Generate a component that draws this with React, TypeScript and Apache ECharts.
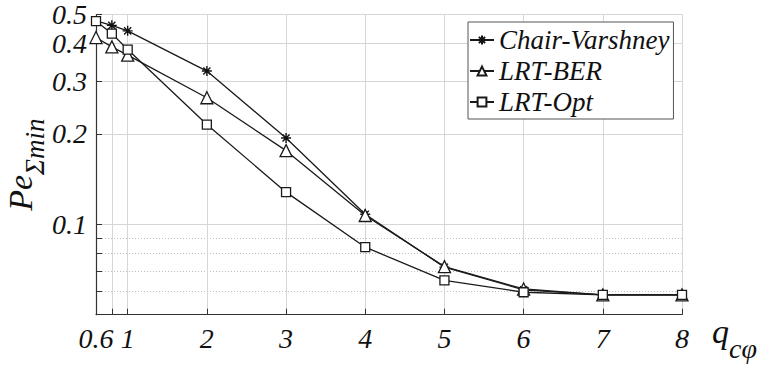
import React, { useEffect, useRef } from 'react';
import * as echarts from 'echarts';

// ---- data ----
const xValues = [0.6, 0.8, 1, 2, 3, 4, 5, 6, 7, 8];
const chairVarshney = [0.476, 0.46, 0.441, 0.324, 0.194, 0.108, 0.072, 0.0605, 0.0582, 0.0582];
const lrtBer = [0.419, 0.39, 0.366, 0.264, 0.176, 0.107, 0.0723, 0.0609, 0.0582, 0.0582];
const lrtOpt = [0.475, 0.432, 0.382, 0.215, 0.128, 0.0839, 0.0651, 0.0594, 0.0582, 0.0582];
const seriesNames = ['Chair-Varshney', 'LRT-BER', 'LRT-Opt'];

const xTickValues = [0.6, 0.8, 1, 2, 3, 4, 5, 6, 7, 8];
const xLabelValues = [0.6, 1, 2, 3, 4, 5, 6, 7, 8];
const yMajorTicks = [0.1, 0.2, 0.3, 0.4, 0.5];
const yMinorTicks = [0.06, 0.07, 0.08, 0.09];
const yMin = 0.05;
const yMax = 0.5;

const lg = (v: number) => Math.log10(v);
const FONT = "'Liberation Serif', 'Times New Roman', serif";
const STAR = 'path://M0,-10L0,10M-10,0L10,0M-7.07,-7.07L7.07,7.07M-7.07,7.07L7.07,-7.07';

export default function App() {
  const ref = useRef<HTMLDivElement>(null);

  useEffect(() => {
    if (!ref.current) return;
    const chart = echarts.init(ref.current, undefined, { renderer: 'svg' });

    const mk = (vals: number[]) => xValues.map((x, i) => [x, lg(vals[i])]);

    const lineStyle = { color: '#1a1a1a', width: 1.3 };
    const txt = { fontFamily: FONT, fontStyle: 'italic', color: '#111' };

    const option: any = {
      animation: false,
      backgroundColor: '#fff',
      textStyle: { fontFamily: FONT },
      grid: { left: 96, right: 78, top: 14.5, bottom: 50.3, containLabel: false, outerBoundsMode: 'none' },
      legend: {
        data: seriesNames,
        orient: 'vertical',
        left: 468,
        top: 22,
        backgroundColor: '#fff',
        borderColor: '#555',
        borderWidth: 1,
        padding: [3, 4, 2, 1],
        itemGap: 1,
        itemWidth: 24,
        itemHeight: 11,
        selectedMode: false,
        textStyle: { ...txt, fontSize: 27, lineHeight: 30 },
      },
      xAxis: {
        type: 'value',
        min: 0.6,
        max: 8,
        name: '{a|q}{b|cφ}',
        nameLocation: 'end',
        nameGap: 30,
        nameMoveOverlap: false,
        nameTextStyle: {
          ...txt,
          verticalAlign: 'top',
          rich: {
            a: { ...txt, fontSize: 34, lineHeight: 34, verticalAlign: 'top' },
            b: { ...txt, fontSize: 28, lineHeight: 26, verticalAlign: 'top', padding: [20, 0, 0, 0] },
          },
        },
        axisLine: { lineStyle: { color: '#333', width: 1.2 } },
        axisTick: { inside: true, length: 6, customValues: xTickValues, lineStyle: { color: '#333' } },
        axisLabel: { ...txt, customValues: xLabelValues, margin: 10, fontSize: 28 },
        splitLine: { show: true, lineStyle: { color: '#d6d6d6', width: 1 } },
      },
      yAxis: [
        {
          type: 'value',
          min: lg(yMin),
          max: lg(yMax),
          position: 'left',
          name: '{a|Pe}{b|Σmin}',
          nameLocation: 'middle',
          nameRotate: 90,
          nameGap: 59,
          nameMoveOverlap: false,
          nameTextStyle: {
            ...txt,
            rich: {
              a: { ...txt, fontSize: 34, lineHeight: 34, verticalAlign: 'top' },
              b: { ...txt, fontSize: 27, lineHeight: 27, verticalAlign: 'top', padding: [18, 0, 0, 0] },
            },
          },
          axisLine: { show: true, lineStyle: { color: '#333', width: 1.2 } },
          axisTick: { show: true, inside: true, length: 6, customValues: yMajorTicks.map(lg), lineStyle: { color: '#333' } },
          axisLabel: {
            ...txt,
            customValues: yMajorTicks.map(lg),
            margin: 9,
            fontSize: 28,
            formatter: (v: number) => String(Math.round(Math.pow(10, v) * 100) / 100),
          },
          splitLine: { show: true, lineStyle: { color: '#d6d6d6', width: 1 } },
        },
        {
          type: 'value',
          min: lg(yMin),
          max: lg(yMax),
          position: 'left',
          offset: 0,
          axisLine: { show: false },
          axisLabel: { show: false },
          axisTick: { show: true, inside: true, length: 6, customValues: yMinorTicks.map(lg), lineStyle: { color: '#333' } },
          splitLine: { show: true, lineStyle: { color: '#bdbdbd', width: 1, type: [1, 2] } },
        },
      ],
      series: [
        {
          name: seriesNames[0],
          type: 'line',
          data: mk(chairVarshney),
          symbol: STAR,
          symbolSize: 10,
          lineStyle,
          itemStyle: { color: '#111', borderColor: '#111', borderWidth: 1.4 },
          z: 3,
        },
        {
          name: seriesNames[1],
          type: 'line',
          data: mk(lrtBer),
          symbol: 'triangle',
          symbolSize: 12,
          lineStyle,
          itemStyle: { color: '#fff', borderColor: '#1a1a1a', borderWidth: 1.3 },
          z: 4,
        },
        {
          name: seriesNames[2],
          type: 'line',
          data: mk(lrtOpt),
          symbol: 'rect',
          symbolSize: 9,
          lineStyle,
          itemStyle: { color: '#fff', borderColor: '#1a1a1a', borderWidth: 1.3 },
          z: 5,
        },
      ],
    };

    chart.setOption(option);
    return () => chart.dispose();
  }, []);

  return <div ref={ref} style={{ position: 'absolute', left: 0, top: 0, width: 760, height: 365 }} />;
}
